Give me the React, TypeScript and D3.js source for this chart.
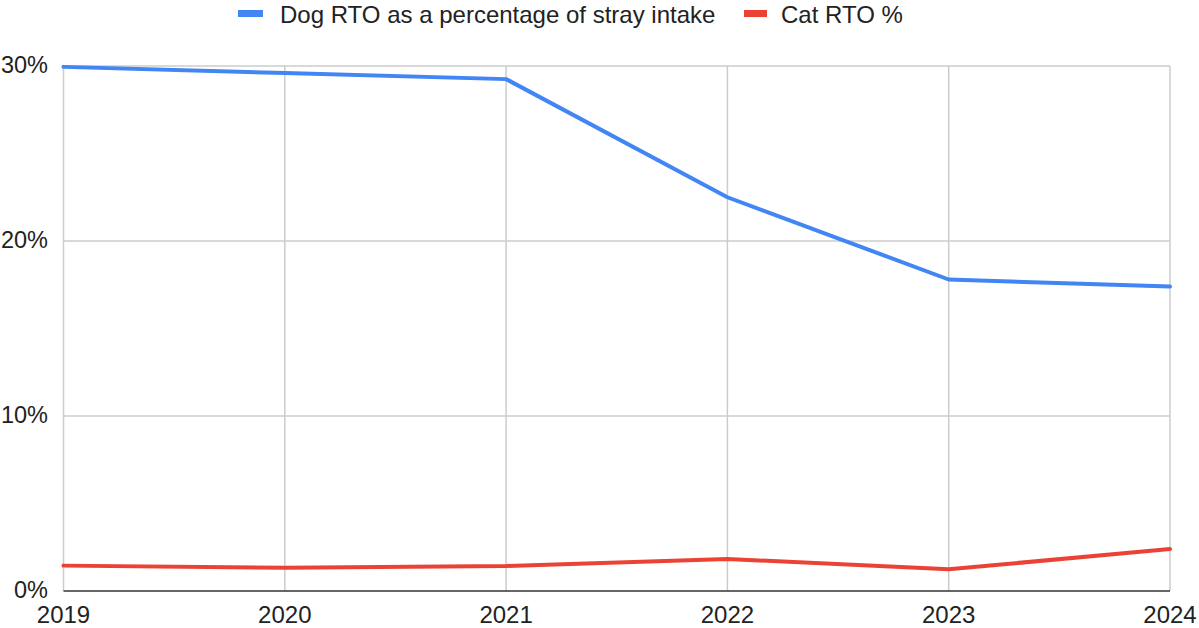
import React from "react";
import * as d3 from "d3";

const years = ["2019", "2020", "2021", "2022", "2023", "2024"];
const dogRTO = [29.95, 29.6, 29.25, 22.5, 17.8, 17.4];
const catRTO = [1.45, 1.33, 1.43, 1.83, 1.24, 2.4];
const yTicks = [0, 10, 20, 30];
const seriesNames = ["Dog RTO as a percentage of stray intake", "Cat RTO %"];
const colors = ["#4285F4", "#EA4335"];

const W = 1199;
const H = 628;
const left = 63.5;
const right = 1170;
const top = 66;
const bottom = 591;
const FONT = "'Liberation Sans', Arial, sans-serif";

export default function App() {
  const x = d3.scalePoint<string>().domain(years).range([left, right]);
  const y = d3.scaleLinear().domain([0, 30]).range([bottom, top]);
  const line = d3
    .line<number>()
    .x((_, i) => x(years[i]) as number)
    .y((d) => y(d));
  const series = [dogRTO, catRTO];

  return (
    <svg
      width={W}
      height={H}
      style={{ position: "absolute", left: 0, top: 0, background: "#fff" }}
      fontFamily={FONT}
    >
      {yTicks.filter((t) => t > 0).map((t) => (
        <line key={"h" + t} x1={left} x2={right} y1={y(t)} y2={y(t)} stroke="#cccccc" strokeWidth={1.5} />
      ))}
      {years.map((yr) => (
        <line key={"v" + yr} x1={x(yr)} x2={x(yr)} y1={top} y2={bottom} stroke="#cccccc" strokeWidth={1.5} />
      ))}
      <line x1={left} x2={right} y1={y(0)} y2={y(0)} stroke="#333333" strokeWidth={1.5} />
      {yTicks.map((t) => (
        <text key={"yl" + t} x={48} y={y(t) + 7} textAnchor="end" fontSize={23.5} fill="#222">
          {t + "%"}
        </text>
      ))}
      {years.map((yr) => (
        <text key={"xl" + yr} x={x(yr)} y={623} textAnchor="middle" fontSize={24} fill="#222">
          {yr}
        </text>
      ))}
      {series.map((s, i) => (
        <path
          key={"s" + i}
          d={line(s) || ""}
          fill="none"
          stroke={colors[i]}
          strokeWidth={4}
          strokeLinejoin="round"
          strokeLinecap="round"
        />
      ))}
      <rect x={238} y={10} width={25} height={7} fill={colors[0]} />
      <text x={280} y={23} fontSize={24} fill="#222">{seriesNames[0]}</text>
      <rect x={744} y={10} width={23} height={7} fill={colors[1]} />
      <text x={781} y={23} fontSize={24} fill="#222">{seriesNames[1]}</text>
    </svg>
  );
}
